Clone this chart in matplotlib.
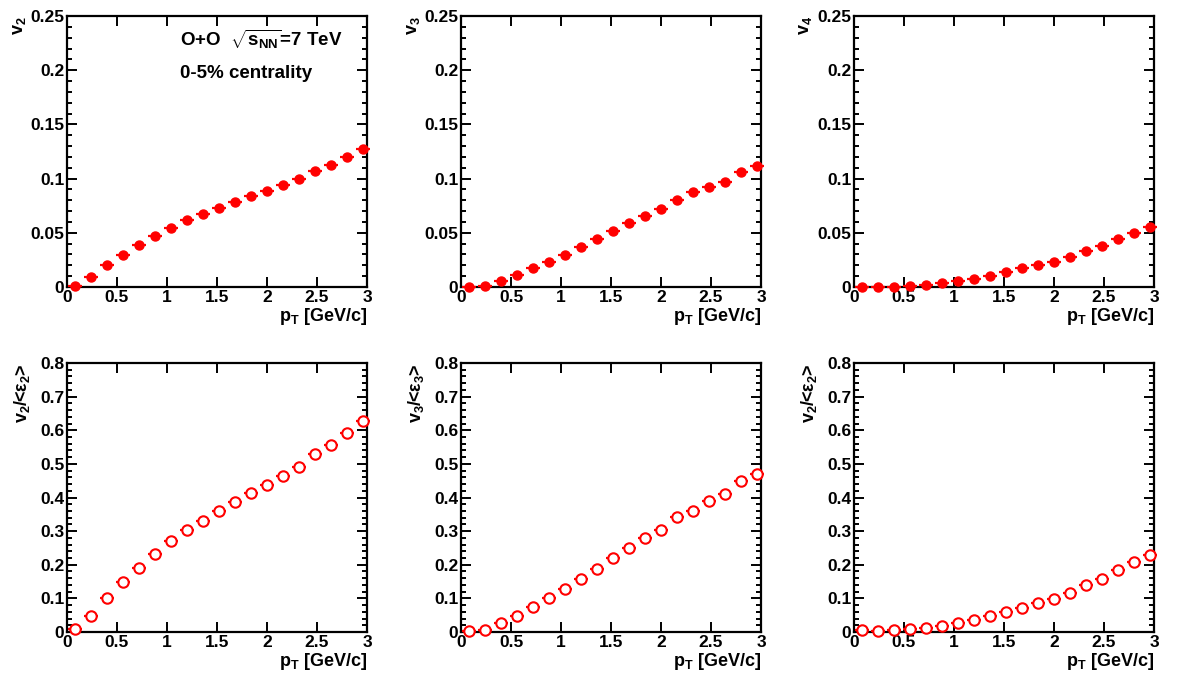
import matplotlib.pyplot as plt
import numpy as np
from matplotlib.ticker import MultipleLocator, FuncFormatter

plt.rcParams['font.family'] = ['Liberation Sans', 'DejaVu Sans']
plt.rcParams['font.weight'] = 'bold'
plt.rcParams['mathtext.fontset'] = 'custom'
plt.rcParams['mathtext.rm'] = 'Liberation Sans:bold'
plt.rcParams['mathtext.it'] = 'Liberation Sans:bold'
plt.rcParams['mathtext.bf'] = 'Liberation Sans:bold'

# pT bin centres [GeV/c]
pt = [0.08, 0.24, 0.40, 0.56, 0.72, 0.88, 1.04, 1.20, 1.36, 1.52,
      1.68, 1.84, 2.00, 2.16, 2.32, 2.48, 2.64, 2.80, 2.96]

# top row: vn(pT)
v2 = [0.0012, 0.0090, 0.0199, 0.0298, 0.0385, 0.0469, 0.0543, 0.0615, 0.0671, 0.0730,
      0.0786, 0.0835, 0.0882, 0.0944, 0.0994, 0.1068, 0.1130, 0.1202, 0.1270]
v3 = [0.0003, 0.0009, 0.0053, 0.0109, 0.0171, 0.0233, 0.0298, 0.0373, 0.0444, 0.0519,
      0.0587, 0.0658, 0.0724, 0.0804, 0.0876, 0.0922, 0.0969, 0.1065, 0.1112]
v4 = [0.0003, -0.0003, 0.0003, 0.0009, 0.0022, 0.0034, 0.0053, 0.0075, 0.0099, 0.0134,
      0.0171, 0.0199, 0.0230, 0.0273, 0.0335, 0.0382, 0.0441, 0.0497, 0.0550]

# bottom row: vn / <eps_n>
v2_eps2 = [0.0089, 0.0482, 0.1003, 0.1495, 0.1917, 0.2330, 0.2694, 0.3019, 0.3314, 0.3609,
           0.3864, 0.4120, 0.4360, 0.4650, 0.4910, 0.5280, 0.5560, 0.5920, 0.6270]
v3_eps3 = [0.0020, 0.0069, 0.0265, 0.0482, 0.0737, 0.1013, 0.1288, 0.1583, 0.1878, 0.2193,
           0.2488, 0.2783, 0.3048, 0.3412, 0.3609, 0.3884, 0.4100, 0.4480, 0.4690]
v4_eps2 = [0.0050, 0.0030, 0.0050, 0.0098, 0.0128, 0.0187, 0.0256, 0.0344, 0.0472, 0.0590,
           0.0728, 0.0855, 0.0993, 0.1170, 0.1406, 0.1583, 0.1848, 0.2075, 0.2281]

top_series = [v2, v3, v4]
bottom_series = [v2_eps2, v3_eps3, v4_eps2]
top_labels = ['v$_2$', 'v$_3$', 'v$_4$']
bottom_labels = ['v$_2$/<ε$_2$>', 'v$_3$/<ε$_3$>', 'v$_2$/<ε$_2$>']

fig = plt.figure(figsize=(11.82, 6.9), dpi=100)

lefts = [67/1182, 461/1182, 854/1182]
w = 300/1182
fmt = FuncFormatter(lambda v, _: '%g' % round(v, 4))


def style(ax, ymax, ymaj, ymin):
    ax.set_xlim(0, 3)
    ax.set_ylim(0, ymax)
    ax.xaxis.set_major_locator(MultipleLocator(0.5))
    ax.yaxis.set_major_locator(MultipleLocator(ymaj))
    ax.yaxis.set_minor_locator(MultipleLocator(ymin))
    ax.xaxis.set_major_formatter(fmt)
    ax.yaxis.set_major_formatter(fmt)
    ax.tick_params(which='both', direction='in', top=True, right=True, width=1.4,
                   labelsize=12.5, pad=2)
    ax.tick_params(which='major', length=7)
    ax.tick_params(which='minor', length=3.5)
    for s in ax.spines.values():
        s.set_linewidth(1.6)
    ax.text(1.0, -0.125, 'p$_{T}$ [GeV/c]', transform=ax.transAxes,
            ha='right', va='baseline', fontsize=13)


for i in range(3):
    ax = fig.add_axes([lefts[i], 1 - 287/690, w, 271/690])
    style(ax, 0.25, 0.05, 0.01)
    ax.errorbar(pt, top_series[i], xerr=0.07, fmt='o', color='#ff0000', ms=6.5,
                elinewidth=1.6, capsize=0, clip_on=False, zorder=3)
    ax.text(-0.16, 1.0, top_labels[i], transform=ax.transAxes, rotation=90,
            ha='center', va='top', fontsize=13)
    if i == 0:
        ax.text(0.377, 0.89, r'O+O  $\sqrt{s_{NN}}$=7 TeV', transform=ax.transAxes,
                ha='left', va='baseline', fontsize=13.5)
        ax.text(0.377, 0.77, '0-5% centrality', transform=ax.transAxes,
                ha='left', va='baseline', fontsize=13.5)

for i in range(3):
    ax = fig.add_axes([lefts[i], 1 - 632/690, w, 269/690])
    style(ax, 0.8, 0.1, 0.02)
    ax.errorbar(pt, bottom_series[i], xerr=0.07, fmt='o', color='#ff0000', ms=7.5,
                mfc='white', mew=1.5, elinewidth=1.6, capsize=0, clip_on=False, zorder=3)
    ax.text(-0.15, 1.0, bottom_labels[i], transform=ax.transAxes, rotation=90,
            ha='center', va='top', fontsize=13)

fig.savefig('out.png', dpi=100)
